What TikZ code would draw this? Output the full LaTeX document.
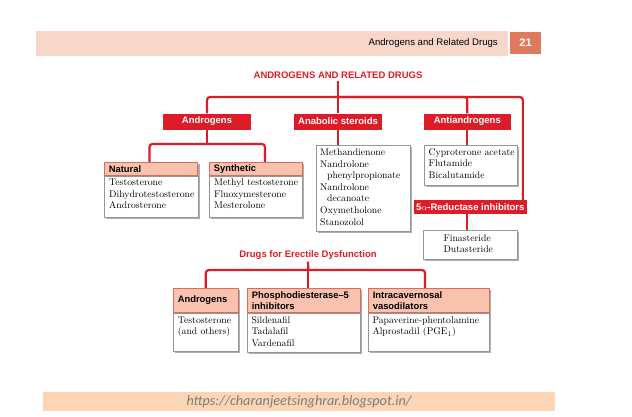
\documentclass[tikz,border=0pt]{standalone}
\usepackage{fontspec}
\newfontfamily\hs{Liberation Sans}
\newfontfamily\ft{Carlito}
\usetikzlibrary{shadows}
\pgfdeclarelayer{background}
\pgfsetlayers{background,main}
\definecolor{dred}{RGB}{222,28,40}
\definecolor{pinkh}{RGB}{249,194,174}
\definecolor{hborder}{RGB}{214,110,90}
\definecolor{bgray}{RGB}{150,150,150}
\definecolor{shgray}{RGB}{175,175,175}
\definecolor{hdrpink}{RGB}{248,215,203}
\definecolor{numred}{RGB}{224,122,95}
\definecolor{footpeach}{RGB}{252,213,180}
\definecolor{footgray}{RGB}{125,125,125}
\begin{document}
\begin{tikzpicture}[x=1pt,y=-1pt,
  conn/.style={draw=dred,line width=2.2pt,rounded corners=3pt},
  redbox/.style={fill=dred,text=white,font=\hs\bfseries\fontsize{9.5}{11}\selectfont,inner sep=0pt},
  redtitle/.style={text=dred,font=\hs\bfseries\fontsize{9.5}{11}\selectfont,inner sep=2pt},
  pinkhead/.style={draw=hborder,line width=0.6pt,fill=pinkh,font=\hs\bfseries\fontsize{9.4}{11}\selectfont,inner xsep=4.5pt,inner ysep=0pt,align=left,drop shadow={shadow xshift=1.8pt,shadow yshift=-1.8pt,fill=shgray,opacity=1}},
  bodybox/.style={draw=bgray,line width=0.6pt,fill=white,inner sep=0pt,anchor=north west,drop shadow={shadow xshift=1.8pt,shadow yshift=-1.8pt,fill=shgray,opacity=1}},
  bodytext/.style={anchor=base west,inner sep=0pt,font=\fontsize{9.7}{11.6}\selectfont},
]
\useasboundingbox (0,0) rectangle (632,416);

% header and footer bars
\node[fill=hdrpink,minimum width=472pt,minimum height=25pt,inner sep=0pt,anchor=north west] (hdr) at (36,31) {};
\node[anchor=east,inner sep=0pt,font=\hs\fontsize{9.6}{11}\selectfont] (hdrtext) at (498,43.5) {Androgens and Related Drugs};
\node[fill=numred,minimum width=31pt,minimum height=22pt,inner sep=0pt,text=white,font=\hs\bfseries\fontsize{11}{13}\selectfont] (num) at (525.5,43) {21};
\node[fill=footpeach,minimum width=512pt,minimum height=19pt,inner sep=0pt,text=footgray,font=\ft\itshape\fontsize{14.2}{16}\selectfont] (foot) at (299,401.5) {https://charanjeetsinghrar.blogspot.in/};

% titles
\node[redtitle] (title) at (338,75.5) {ANDROGENS AND RELATED DRUGS};
\node[redtitle] (edtitle) at (308,255) {Drugs for Erectile Dysfunction};

% red boxes
\node[redbox,minimum width=88pt,minimum height=16pt] (andr) at (207,121.5) {Androgens};
\node[redbox,minimum width=88pt,minimum height=16pt] (anab) at (338,121.5) {Anabolic steroids};
\node[redbox,minimum width=87pt,minimum height=16pt] (anti) at (467.3,121.5) {Antiandrogens};
\node[redbox,minimum width=112.7pt,minimum height=13.5pt] (red5) at (470.3,207) {5$\alpha$-Reductase inhibitors};

% Natural / Synthetic
\node[pinkhead,text width=84.4pt,minimum height=13.4pt] (natH) at (151,169) {Natural};
\node[bodybox,minimum width=93.4pt,minimum height=41.5pt] (natB) at (104.3,175.7) {};
\node[bodytext] (natT) at (109,185.5) {\parbox[t]{120pt}{\raggedright Testosterone\\Dihydrotestosterone\\Androsterone}};

\node[pinkhead,text width=84pt,minimum height=13.4pt] (synH) at (255.8,169) {Synthetic};
\node[bodybox,minimum width=93pt,minimum height=41.5pt] (synB) at (209.3,175.7) {};
\node[bodytext] (synT) at (214,185.5) {\parbox[t]{120pt}{\raggedright Methyl testosterone\\Fluoxymesterone\\Mesterolone}};

% Anabolic list
\node[bodybox,minimum width=94pt,minimum height=86pt] (anabB) at (315.5,144.5) {};
\node[bodytext] (anabT) at (320,155.5) {\parbox[t]{120pt}{\raggedright Methandienone\\Nandrolone\\\hspace*{7pt}phenylpropionate\\Nandrolone\\\hspace*{7pt}decanoate\\Oxymetholone\\Stanozolol}};

% Antiandrogens list
\node[bodybox,minimum width=93.3pt,minimum height=40.5pt] (antiB) at (424,144.5) {};
\node[bodytext] (antiT) at (428.5,155) {\parbox[t]{120pt}{\raggedright Cyproterone acetate\\Flutamide\\Bicalutamide}};

% Finasteride
\node[bodybox,minimum width=94pt,minimum height=29.5pt] (finB) at (423.3,229.5) {};
\node[bodytext] (finT) at (443.3,241) {\parbox[t]{120pt}{\raggedright Finasteride\\Dutasteride}};

% ED boxes
\node[pinkhead,text width=56pt,minimum height=24.4pt] (edaH) at (205.8,300.5) {Androgens};
\node[bodybox,minimum width=65pt,minimum height=38.5pt] (edaB) at (173.3,312.7) {};
\node[bodytext] (edaT) at (177.7,323) {\parbox[t]{120pt}{\raggedright Testosterone\\(and others)}};

\node[pinkhead,text width=103.7pt,minimum height=24.4pt] (pdeH) at (303.65,300.5) {Phosphodiesterase–5\\inhibitors};
\node[bodybox,minimum width=112.7pt,minimum height=39pt] (pdeB) at (247.3,312.7) {};
\node[bodytext] (pdeT) at (251.3,323) {\parbox[t]{120pt}{\raggedright Sildenafil\\Tadalafil\\Vardenafil}};

\node[pinkhead,text width=112pt,minimum height=24.4pt] (intH) at (428.8,300.5) {Intracavernosal\\vasodilators};
\node[bodybox,minimum width=121pt,minimum height=38pt] (intB) at (368.3,312.7) {};
\node[bodytext] (intT) at (372.3,323) {\parbox[t]{130pt}{\raggedright Papaverine-phentolamine\\Alprostadil (PGE$_1$)}};

% connectors
\coordinate (hub) at (338,97);
\coordinate (j1) at (207,144);
\coordinate (j2) at (308.3,270);
\begin{pgfonlayer}{background}
\draw[conn] (title.south) -- (hub);
\draw[conn] (andr.north) |- (hub);
\draw[conn] (anab.north) -- (hub);
\draw[conn] (anti.north) |- (hub);
\draw[conn] (hub) -| ([xshift=-4pt]red5.north east);
\draw[conn] (andr.south) -- (j1);
\draw[conn] (j1) -| ([xshift=-1.5pt]natH.north);
\draw[conn] (j1) -| ([xshift=9.2pt]synH.north);
\draw[conn] (anab.south) -- (anab.south |- anabB.north);
\draw[conn] (anti.south) -- (anti.south |- antiB.north);
\draw[conn] ([xshift=-3.6pt]red5.south) -- ([xshift=-3.6pt]red5.south |- finB.north);
\draw[conn] (edtitle.south) -- (j2);
\draw[conn] (j2) -| (edaH.north);
\draw[conn] (j2) -- (j2 |- pdeH.north);
\draw[conn] (j2) -| ([xshift=-3.8pt]intH.north);
\end{pgfonlayer}
\end{tikzpicture}
\end{document}
